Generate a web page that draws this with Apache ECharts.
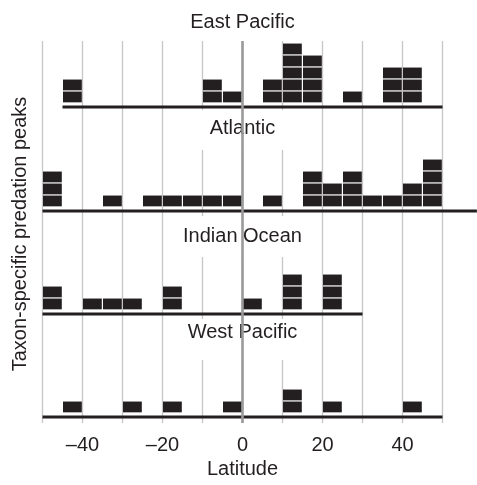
<!DOCTYPE html>
<html>
<head>
<meta charset="utf-8">
<script src="https://cdn.jsdelivr.net/npm/echarts@6/dist/echarts.min.js"></script>
<style>
  html, body { margin: 0; padding: 0; background: #fff; }
  #chart { width: 477px; height: 485px; }
</style>
</head>
<body>
<div id="chart"></div>
<script>
// latitude bins are 5 degrees wide, keyed by their southern edge
const regions = ['East Pacific', 'Atlantic', 'Indian Ocean', 'West Pacific'];

const epBins = [-45, -10, -5, 5, 10, 15, 25, 35, 40];
const epPeaks = [2, 2, 1, 2, 5, 4, 1, 3, 3];

const atBins = [-50, -35, -25, -20, -15, -10, -5, 5, 15, 20, 25, 30, 35, 40, 45];
const atPeaks = [3, 1, 1, 1, 1, 1, 1, 1, 3, 2, 3, 1, 1, 2, 4];

const ioBins = [-50, -40, -35, -30, -20, 0, 10, 20];
const ioPeaks = [2, 1, 1, 1, 2, 1, 3, 3];

const wpBins = [-45, -30, -20, -5, 10, 20, 40];
const wpPeaks = [1, 1, 1, 1, 2, 1, 1];

// extent of each panel's baseline (latitude); the Atlantic one runs off the edge
const epBase = [-45, 50];
const atBase = [-50, 58.6];
const ioBase = [-50, 30];
const wpBase = [-50, 50];

const latTicks = [-40, -20, 0, 20, 40];
const binWidth = 5;

const INK = '#231f20';
const FONT = '"Liberation Sans", Arial, sans-serif';
const Y_MIN = -0.33, Y_MAX = 5.17;
// panel axes keep 4 px per degree but reach the right edge of the page
const PANEL_MAX = -50 + (477 - 42.5) / 4;

const chart = echarts.init(document.getElementById('chart'), null, { renderer: 'canvas' });

const panels = [
  { bins: epBins, peaks: epPeaks, base: epBase, top: 41 },
  { bins: atBins, peaks: atPeaks, base: atBase, top: 145 },
  { bins: ioBins, peaks: ioPeaks, base: ioBase, top: 248 },
  { bins: wpBins, peaks: wpPeaks, base: wpBase, top: 351 }
];
const titleY = [22, 128, 236, 332];

const grids = [], xAxes = [], yAxes = [], series = [];

panels.forEach((p, i) => {
  grids.push({ left: 42.5, right: 0, top: p.top, height: 66 });
  xAxes.push({
    gridIndex: i, type: 'value', min: -50, max: PANEL_MAX,
    axisLine: { show: false }, axisTick: { show: false },
    axisLabel: { show: false }, splitLine: { show: false }
  });
  yAxes.push({
    gridIndex: i, type: 'value', min: Y_MIN, max: Y_MAX, show: false,
    splitLine: { show: false }
  });
  series.push({
    type: 'custom',
    xAxisIndex: i, yAxisIndex: i,
    z: 3,
    data: p.bins.map((b, k) => [b, p.peaks[k]]),
    renderItem: (params, api) => {
      const lat = api.value(0), n = api.value(1);
      const children = [];
      for (let k = 0; k < n; k++) {
        const a = api.coord([lat, k + 1]);
        const b = api.coord([lat + binWidth, k]);
        children.push({
          type: 'rect',
          shape: { x: a[0] + 0.5, y: a[1] + 0.5, width: b[0] - a[0] - 1.2, height: b[1] - a[1] - 1.2 },
          style: { fill: INK }
        });
      }
      return { type: 'group', children: children };
    }
  });
  series.push({
    type: 'line',
    xAxisIndex: i, yAxisIndex: i,
    z: 4,
    clip: false,
    symbol: 'none',
    silent: true,
    lineStyle: { color: INK, width: 3 },
    data: p.base.map(x => [x, Y_MIN])
  });
});

// full-height grid that carries the vertical latitude lines and the axis labels
grids.push({ left: 42.5, right: 34.5, top: 41, bottom: 62 });
xAxes.push({
  gridIndex: 4, type: 'value', min: -50, max: 50, interval: 10,
  axisLine: { show: false }, axisTick: { show: false },
  splitLine: { show: true, lineStyle: { color: '#c6c6c6', width: 1.3 } },
  axisLabel: {
    margin: 12, fontSize: 20, color: INK, fontFamily: FONT,
    formatter: v => latTicks.indexOf(v) >= 0 ? String(v).replace('-', '\u2013') : ''
  },
  name: 'Latitude', nameLocation: 'middle', nameGap: 33,
  nameTextStyle: { fontSize: 20, color: INK, fontFamily: FONT }
});
yAxes.push({ gridIndex: 4, type: 'value', min: 0, max: 1, show: false });
series.push({
  type: 'line', xAxisIndex: 4, yAxisIndex: 4, z: 0, data: [], silent: true,
  markLine: {
    silent: true, symbol: 'none', label: { show: false },
    lineStyle: { color: '#9a9a9a', width: 2.6, type: 'solid' },
    data: [{ xAxis: 0 }]
  }
});

// white boxes behind the panel titles hide the central latitude lines
const masks = [[170, 110, 145, 40], [170, 216, 145, 41], [170, 319, 145, 41]];
const graphic = masks.map(m => ({
  type: 'rect', z: 1, silent: true,
  shape: { x: m[0], y: m[1], width: m[2], height: m[3] },
  style: { fill: '#fff' }
}));
regions.forEach((name, i) => {
  graphic.push({
    type: 'text', z: 5, x: 242.5, y: titleY[i],
    style: { text: name, fontSize: 20, fontFamily: FONT, fill: INK, align: 'center', verticalAlign: 'middle' }
  });
});
graphic.push({
  type: 'text', z: 5, x: 20, y: 234, rotation: Math.PI / 2,
  style: { text: 'Taxon-specific predation peaks', fontSize: 20, fontFamily: FONT, fill: INK, align: 'center', verticalAlign: 'middle' }
});

chart.setOption({
  backgroundColor: '#fff',
  animation: false,
  grid: grids,
  xAxis: xAxes,
  yAxis: yAxes,
  graphic: graphic,
  series: series
});
</script>
</body>
</html>
